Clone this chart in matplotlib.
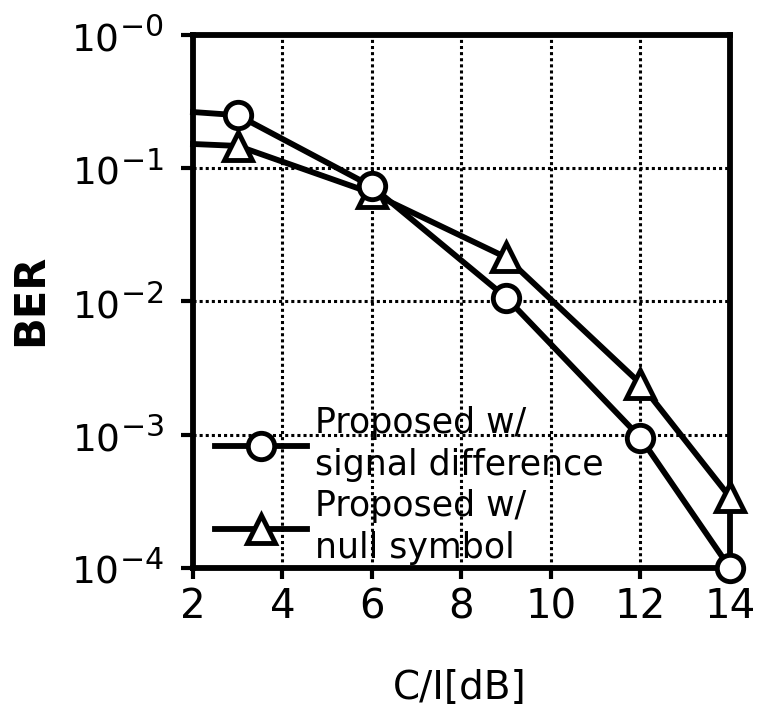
import numpy as np
import matplotlib as mpl
mpl.use('Agg')
import matplotlib.pyplot as plt
import matplotlib._mathtext as mathtext_impl
from matplotlib.ticker import FixedLocator, FixedFormatter

plt.rcParams['font.family'] = ['DejaVu Sans']
plt.rcParams['mathtext.default'] = 'regular'
# slightly larger exponents on the decade labels
mathtext_impl.SHRINK_FACTOR = 0.8

# BER vs C/I for the two proposed schemes
ci_db = [2, 3, 6, 9, 12, 14]
ber_sigdiff = [0.264, 0.25, 0.073, 0.0107, 0.00095, 0.0001]
ber_null = [0.152, 0.147, 0.065, 0.0214, 0.00242, 0.00034]

x_ticks = [2, 4, 6, 8, 10, 12, 14]
y_exps = [0, -1, -2, -3, -4]
y_labels = [r'$\mathregular{10^{-%d}}$' % abs(e) for e in y_exps]

fig = plt.figure(figsize=(7.58, 7.18), dpi=100)
ax = fig.add_axes([0.2546, 0.2089, 0.7084, 0.7424])

ax.plot(ci_db, ber_sigdiff, color='black', lw=4.2, marker='o', markersize=19,
        markerfacecolor='white', markeredgewidth=3.5, markevery=[1, 2, 3, 4, 5],
        clip_on=False, zorder=4, label='Proposed w/\nsignal difference')
ax.plot(ci_db, ber_null, color='black', lw=4.2, marker='^', markersize=20,
        markerfacecolor='white', markeredgewidth=3.5, markevery=[1, 2, 3, 4, 5],
        clip_on=False, zorder=3, label='Proposed w/\nnull symbol')

ax.set_yscale('log')
ax.set_xlim(2, 14)
ax.set_ylim(1e-4, 1)

ax.xaxis.set_major_locator(FixedLocator(x_ticks))
ax.yaxis.set_major_locator(FixedLocator([10.0 ** e for e in y_exps]))
ax.yaxis.set_major_formatter(FixedFormatter(y_labels))
ax.yaxis.set_minor_locator(FixedLocator([]))

for v in x_ticks[1:-1]:
    ax.axvline(v, color='black', lw=2.2, ls=(0, (1, 1)), zorder=1)
for e in y_exps[1:-1]:
    ax.axhline(10.0 ** e, color='black', lw=2.2, ls=(0, (1, 1)), zorder=1)

for s in ax.spines.values():
    s.set_linewidth(4.2)
ax.tick_params(axis='x', direction='out', length=8, width=3, labelsize=29, pad=6)
ax.tick_params(axis='y', direction='out', length=9, width=3, labelsize=27, pad=12)

leg = ax.legend(loc='lower left', bbox_to_anchor=(0.041, 0.005), frameon=False,
                fontsize=25, handlelength=2.65, handletextpad=0.23, labelspacing=0.2,
                borderpad=0, borderaxespad=0)
for t in leg.get_texts():
    t.set_linespacing(1.3)

fig.text(30 / 758, 1 - 300 / 718, 'BER', rotation=90, fontsize=30,
         fontweight='bold', ha='center', va='center')
fig.text(460 / 758, 1 - 688 / 718, 'C/I[dB]', fontsize=28,
         ha='center', va='center')

fig.savefig('out.png', dpi=100)
